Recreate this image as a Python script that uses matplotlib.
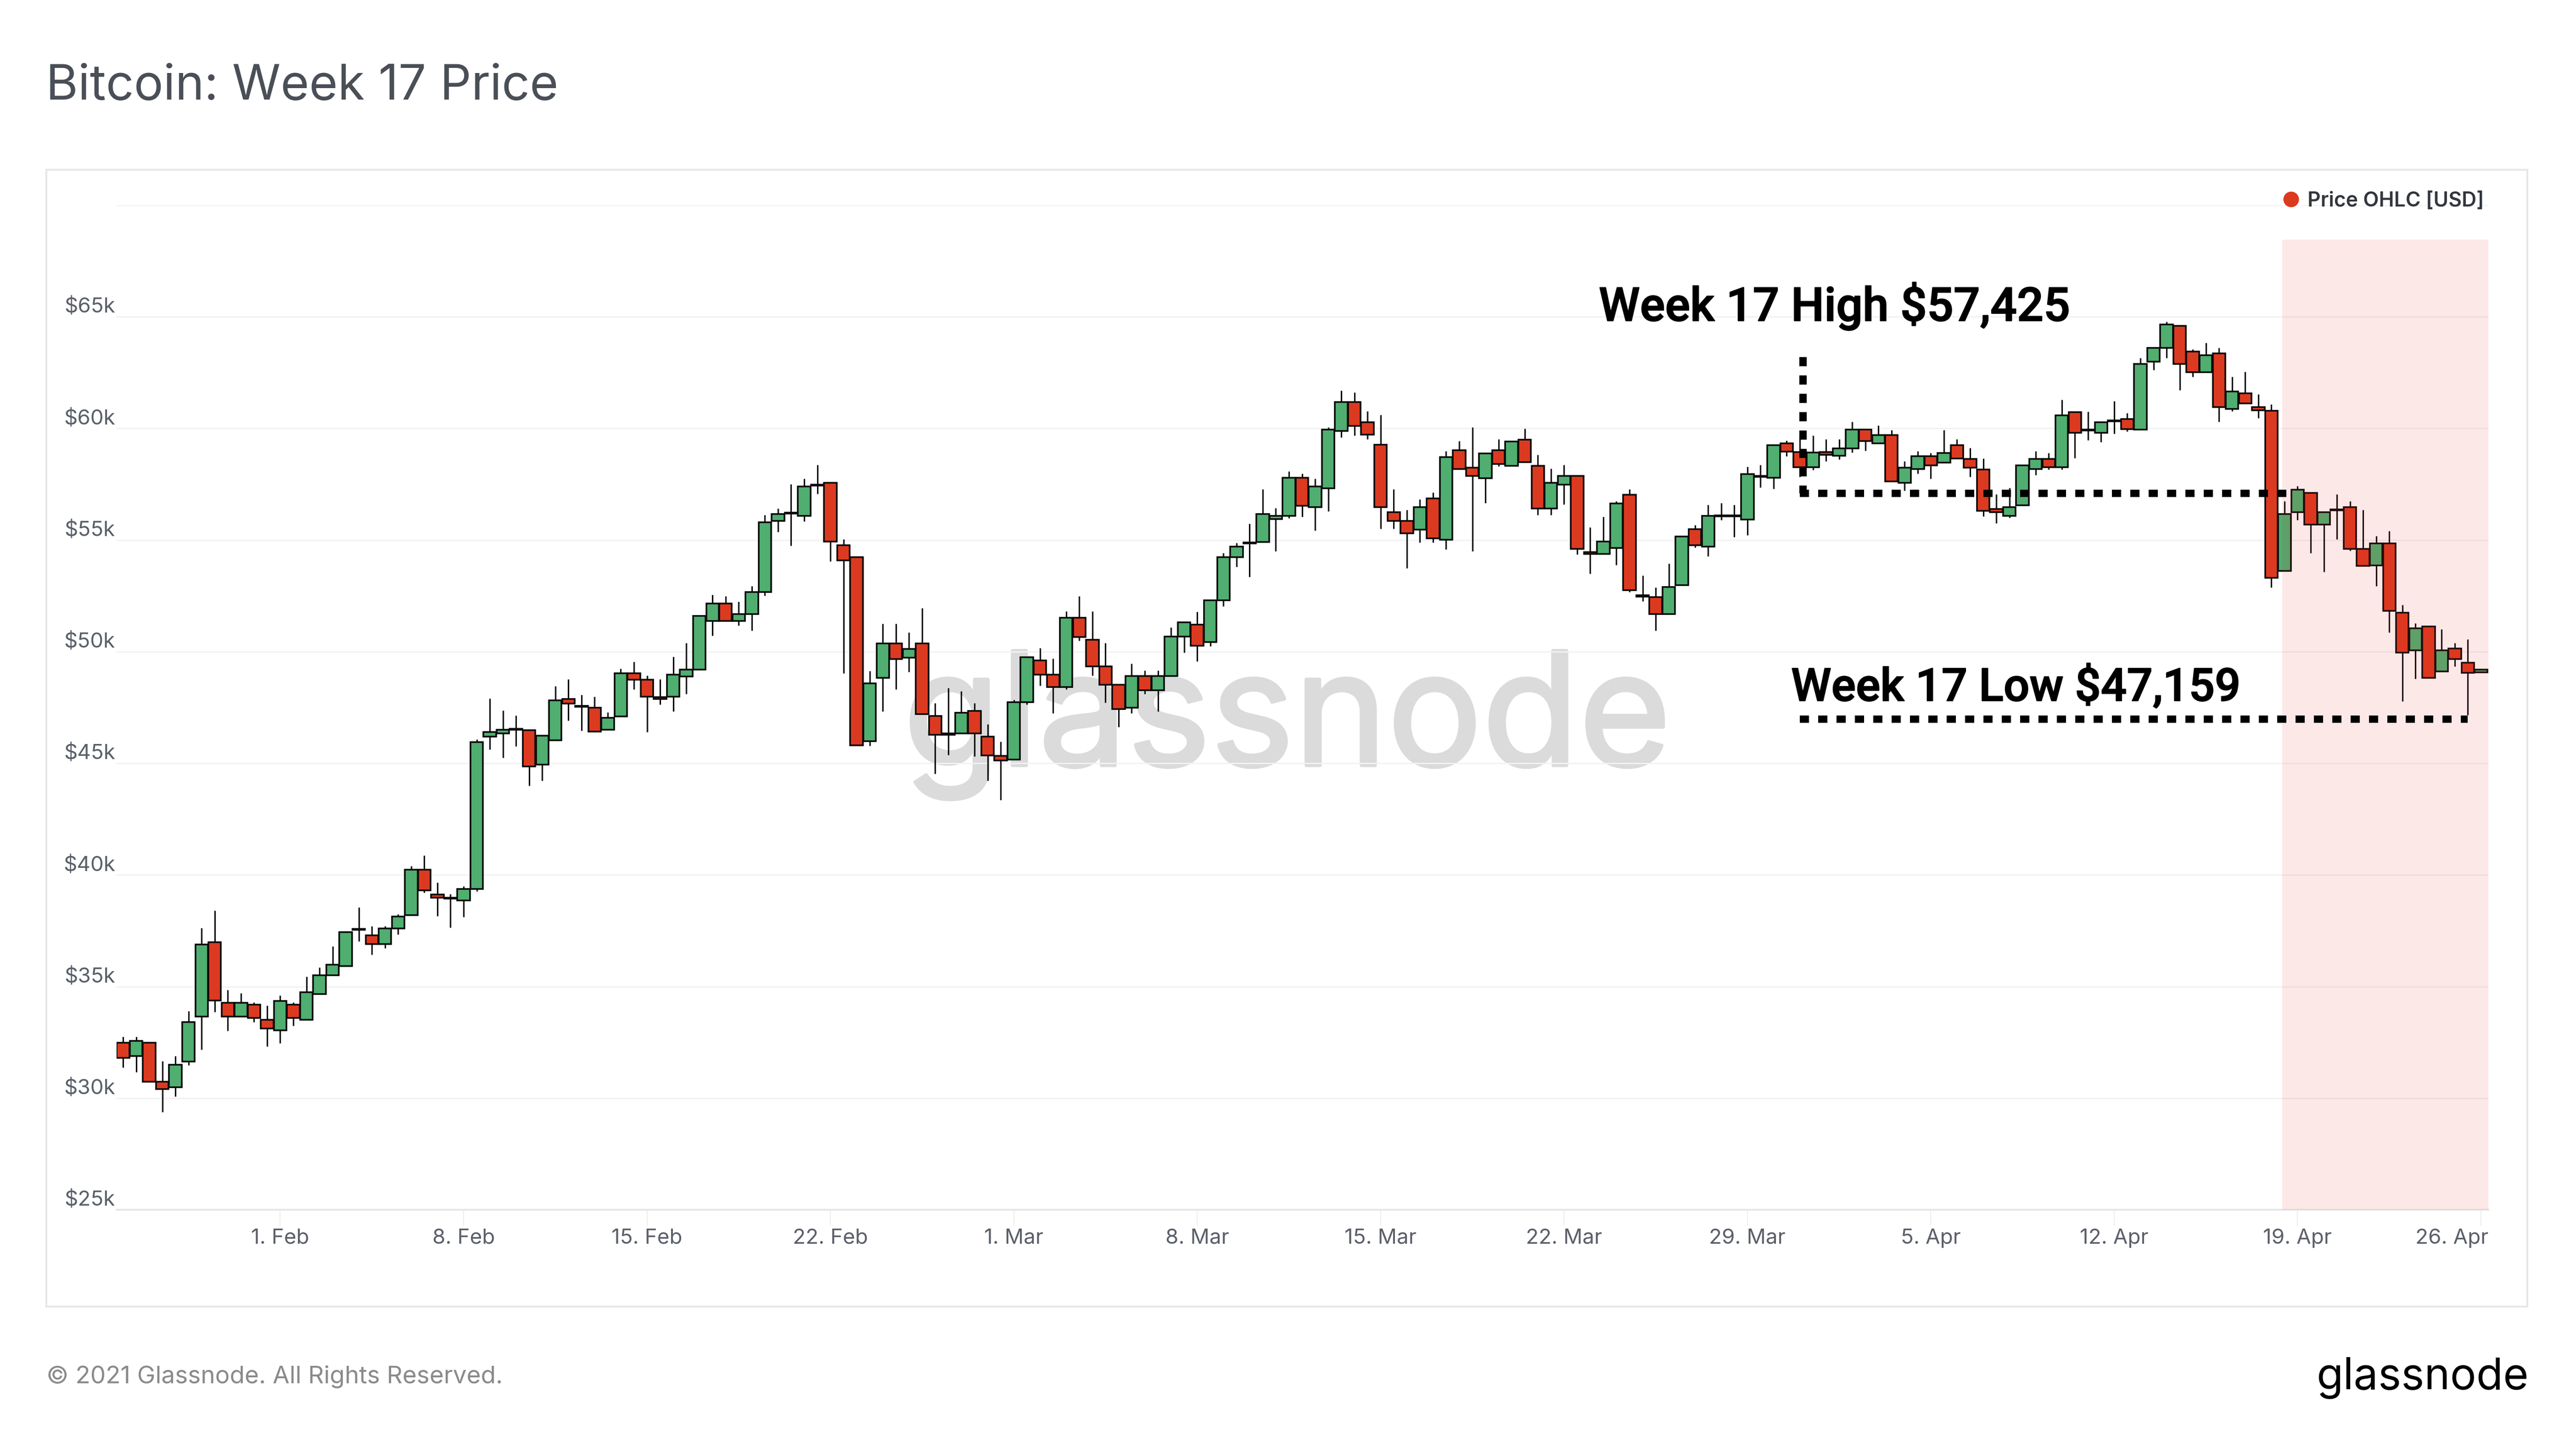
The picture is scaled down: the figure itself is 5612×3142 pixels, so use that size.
import matplotlib
matplotlib.use("Agg")
import matplotlib.pyplot as plt
import matplotlib.dates as mdates
import matplotlib.patheffects as pe
import pandas as pd
from matplotlib.lines import Line2D
from matplotlib.patches import Rectangle
from matplotlib.transforms import ScaledTranslation

W, H, DPI = 5612, 3142, 200
plt.rcParams['font.family'] = ['Inter', 'DejaVu Sans']

start_date = '2021-01-26'
opens = [32488,31881,32488,30726,30481,31650,33658,36979,34264,33658,34192,33513,33037,34192,33513,34668,35506,35910,37585,37297,
36907,37600,38206,40228,39130,38986,38856,39376,46192,46336,46495,46485,44940,46038,47886,47568,47496,46500,47106,49041,
48738,47958,47973,48897,49200,51380,52146,51380,51684,52680,55857,56189,56088,57431,57561,54760,54225,45980,48822,50372,
49737,50372,47115,46334,46345,47349,46189,45330,45174,47740,49603,48967,48420,51521,50528,49346,48520,47494,48900,48275,
48900,50685,51220,50439,52302,54232,54893,54918,55934,56087,57794,56471,57325,59884,61190,60268,59270,56249,55848,55473,
56872,55004,59031,58246,57777,59031,58331,59500,58331,56403,57478,57862,54466,54381,54637,57020,52516,52453,51676,52988,
55477,54710,56054,56054,55928,57880,57787,59341,58942,58260,58942,58784,59100,59940,59341,59708,57556,58175,58764,58470,
59257,58627,58168,56396,56081,56553,58181,58640,58260,60727,59900,59795,60310,60425,59953,62985,63601,64599,63444,62512,
63365,60871,61580,60950,60793,53626,56251,57104,55700,56330,56475,54611,53863,54847,51750,50056,51133,49124,50135,49505,49072]
highs = [32748,32748,32490,31665,31882,33903,37614,38408,34842,34697,34293,34149,34596,34293,35448,35852,36791,37441,38553,37701,
37701,38235,40401,40878,39650,39145,39491,46062,47910,47376,47145,46485,46240,48464,48767,48074,47987,47294,49229,49547,
48926,48767,49778,50384,51597,52550,52478,52247,52940,56117,56420,57503,57749,58355,57561,55034,54225,49142,51254,51254,
50863,51945,47695,48376,48231,47695,46758,45978,47840,49748,50160,49692,51800,52492,51800,50384,48520,49469,49156,49156,
51086,51309,51789,52302,54422,54868,55738,57282,56429,58067,57981,57751,60055,61693,61608,60763,60609,57282,56343,56813,
57128,58971,59440,60055,58877,59517,59415,59986,58818,58203,58365,57862,55575,56045,56737,57283,53408,52873,53954,55162,
55666,56580,56663,56580,58291,58364,59257,59446,59625,59677,59520,59520,60296,59940,60139,59918,58522,58973,58890,59918,
59520,59131,58653,57039,57341,58338,58981,58903,61291,60727,60753,60268,61226,60688,63155,63601,64770,64599,63536,63838,
63615,62302,62538,61528,61068,56737,57425,57104,56238,57052,56737,56356,55188,55411,52091,51264,51133,51015,50385,50555,49203]
lows = [31376,31160,30726,29383,30077,31477,32170,33860,33008,33658,33398,32315,32459,33253,33513,34668,35506,35910,37036,36430,
36719,37340,38206,39203,38163,37643,38120,39275,45628,45239,45773,43987,44218,46038,46918,46456,46413,46500,47106,48319,
46399,47626,47323,48102,49200,50716,51380,51178,50947,52507,55366,54745,55842,57070,54052,49027,45806,45778,47316,48320,
49101,47204,44527,45375,46345,45308,44226,43367,45174,47628,48476,47238,48320,50495,48933,47706,46624,47238,48097,47316,
48900,49960,49569,50250,52035,53808,53357,54918,54509,55985,56045,55431,56284,59603,59688,59526,55507,55507,53741,54893,
54893,54577,58178,54509,56667,58297,58331,58493,56130,56130,56599,54355,53502,54381,53881,52663,52254,50941,51676,52988,
54668,54270,55897,55130,55214,57367,57294,58763,57840,58134,58522,58606,58921,58994,59341,57630,57210,57976,57755,58470,
58648,57840,56055,55753,56002,56553,57918,58155,58155,58680,59467,59388,59756,59861,59953,62630,63155,61711,62315,62512,
60307,60780,61121,60465,52878,53626,55897,54427,53574,55044,54519,53850,52944,50870,47786,48783,48823,49124,49334,47159,49072]
closes = [31809,32560,30726,30409,31492,33412,36892,34365,33658,34264,33586,33124,34351,33586,34741,35506,35983,37441,37542,36907,
37600,38134,40228,39304,38986,38928,39376,45946,46408,46495,46538,44868,46240,47814,47670,47525,46413,47034,49041,48738,
47973,47886,48969,49200,51597,52146,51380,51684,52680,55785,56175,56232,57402,57474,54933,54081,45806,48579,50372,49670,
50116,47204,46267,46278,47271,46345,45352,45118,47740,49748,48967,48420,51521,50662,49346,48520,47427,48900,48275,48900,
50685,51309,50272,52302,54232,54700,54850,56173,56087,57794,56531,57393,59952,61190,60114,59713,56471,55848,55302,56471,
55081,58715,58178,57871,58877,58400,59415,58493,56403,57563,57862,54611,54381,54936,56632,52747,52463,51676,52904,55162,
54774,56086,56100,56100,57944,57840,59257,58963,58260,58921,58816,59100,59940,59435,59708,57630,58238,58764,58343,58890,
58648,58238,56317,56251,56475,58338,58640,58260,60583,59795,59950,60268,60350,59966,62893,63601,64665,62893,62512,63273,
60963,61659,61121,60806,53298,56160,57249,55700,56238,56380,54611,53850,54847,51828,49965,51054,48823,50056,49662,49059,49203]

y_ticks = [25000,30000,35000,40000,45000,50000,55000,60000,65000]
y_labels = ['$25k','$30k','$35k','$40k','$45k','$50k','$55k','$60k','$65k']
x_ticks = ['2021-02-01','2021-02-08','2021-02-15','2021-02-22','2021-03-01','2021-03-08','2021-03-15',
           '2021-03-22','2021-03-29','2021-04-05','2021-04-12','2021-04-19','2021-04-26']
x_labels = ['1. Feb','8. Feb','15. Feb','22. Feb','1. Mar','8. Mar','15. Mar','22. Mar','29. Mar','5. Apr','12. Apr','19. Apr','26. Apr']

RED, GREEN = '#DC3A20', '#4FAE70'
GRID = '#F2F2F2'
TICK_TXT = '#5A5F69'

def px(n):
    return n * 72 / DPI

def fx(x):
    return x / W

def fy(y):
    return 1 - y / H

fig = plt.figure(figsize=(W / DPI, H / DPI), dpi=DPI, facecolor='white')
fig.add_artist(Rectangle((fx(101), fy(2847)), fx(5506 - 101), fy(370) - fy(2847), fill=False,
                         edgecolor='#E6E6E6', linewidth=px(4), transform=fig.transFigure))

L, R, T, B = 254, 5421, 447, 2636
ax = fig.add_axes([fx(L), fy(B), fx(R - L), fy(T) - fy(B)], facecolor='none')
ax.set_ylim(25000, 70000)
t0 = mdates.date2num(pd.Timestamp(start_date))
ax.set_xlim(t0 - 0.245, t0 + 90.28)

def fit(text, x, y, width, ha='left', va='baseline', **kw):
    t = fig.text(fx(x), fy(y), text, ha=ha, va=va, **kw)
    r = fig.canvas.get_renderer()
    w = t.get_window_extent(r).width
    t.set_fontsize(t.get_fontsize() * width / w)
    return t

# watermark, behind the axes
wm = fit('glassnode', 1968, 1668, 1672, color='#DBDBDB', fontsize=100, zorder=-1)
wm.set_path_effects([pe.withStroke(linewidth=px(7), foreground='#DBDBDB')])

dates = pd.date_range(start_date, periods=len(opens), freq='12h')
x = mdates.date2num(dates)
ax.set_yticks(y_ticks, y_labels)
ax.set_xticks(mdates.date2num(pd.to_datetime(x_ticks)), x_labels)
ax.grid(False)
for v in y_ticks[1:] + [70000]:
    ax.axhline(v, color=GRID, linewidth=px(3), zorder=1)
for s in ['top', 'left', 'right']:
    ax.spines[s].set_visible(False)
ax.spines['bottom'].set_color('#E6E6E6')
ax.spines['bottom'].set_linewidth(px(4))
ax.tick_params(axis='y', which='major', length=0, pad=px(3), labelsize=16.5, labelcolor=TICK_TXT)
ax.tick_params(axis='x', length=px(35), width=px(2), color='#EDEDED', pad=px(6), labelsize=16.5, labelcolor=TICK_TXT)
up_shift = ScaledTranslation(0, 26 / DPI, fig.dpi_scale_trans)
for lab in ax.get_yticklabels():
    lab.set_transform(lab.get_transform() + up_shift)
last = ax.get_xticklabels()[-1]
last.set_ha('right')
last.set_transform(last.get_transform() + ScaledTranslation(16 / DPI, 0, fig.dpi_scale_trans))

# candles
bottoms = [min(o, c) for o, c in zip(opens, closes)]
heights = [abs(c - o) for o, c in zip(opens, closes)]
colors = [GREEN if c >= o else RED for o, c in zip(opens, closes)]
ax.vlines(x, lows, highs, color='#0A0A0A', linewidth=px(3.2), zorder=3)
ax.bar(x, heights, bottom=bottoms, width=0.48, color=colors, edgecolor='#0A0A0A', linewidth=px(3.6), zorder=4)

# week 17 highlight
ax.axvspan(t0 + 82.42, t0 + 90.28, ymin=0, ymax=(68465 - 25000) / 45000, facecolor=(0.93, 0.15, 0.15),
           alpha=0.105, edgecolor='none', zorder=5)

# annotations
high_line = 57100
low_line = 46979
dots = dict(color='black', linewidth=px(16), linestyle=(0, (1.25, 1.25)), dash_capstyle='butt', zorder=6)
ax.plot([t0 + 64.12, t0 + 64.12], [63196, high_line], **dots)
ax.plot([t0 + 64.0, t0 + 82.9], [high_line, high_line], **dots)
ax.plot([t0 + 64.0, t0 + 89.5], [low_line, low_line], **dots)
big = dict(color='black', family=['Roboto', 'DejaVu Sans'], fontweight='medium', fontsize=30, zorder=7)
t_hi = fit('Week 17 High $57,425', 3483, 699, 1027, **big)
t_lo = fit('Week 17 Low $47,159', 3902, 1527, 980, **big)
for t in (t_hi, t_lo):
    t.set_path_effects([pe.withStroke(linewidth=px(2), foreground='black')])

# legend
h = Line2D([], [], linestyle='none', marker='o', markerfacecolor=RED, markeredgecolor='none', markersize=px(34))
leg = ax.legend([h], ['Price OHLC [USD]'], loc='center left', bbox_to_anchor=(fx(4969), fy(438)),
                bbox_transform=fig.transFigure, frameon=False, borderpad=0, borderaxespad=0,
                handlelength=1.0, handletextpad=0.3, prop={'size': 16, 'weight': 'semibold'})
leg.get_texts()[0].set_color('#33373D')

# title and footer
fit('Bitcoin: Week 17 Price', 100, 217, 1117, color='#4A4F57', fontsize=39)
fit('\u00a9 2021 Glassnode. All Rights Reserved.', 101, 3014, 995, color='#8A8A8A', fontsize=19)
lg = fit('glassnode', 5046, 3026, 462, color='black', fontsize=30)

fig.savefig('out.png', dpi=DPI, facecolor='white')
